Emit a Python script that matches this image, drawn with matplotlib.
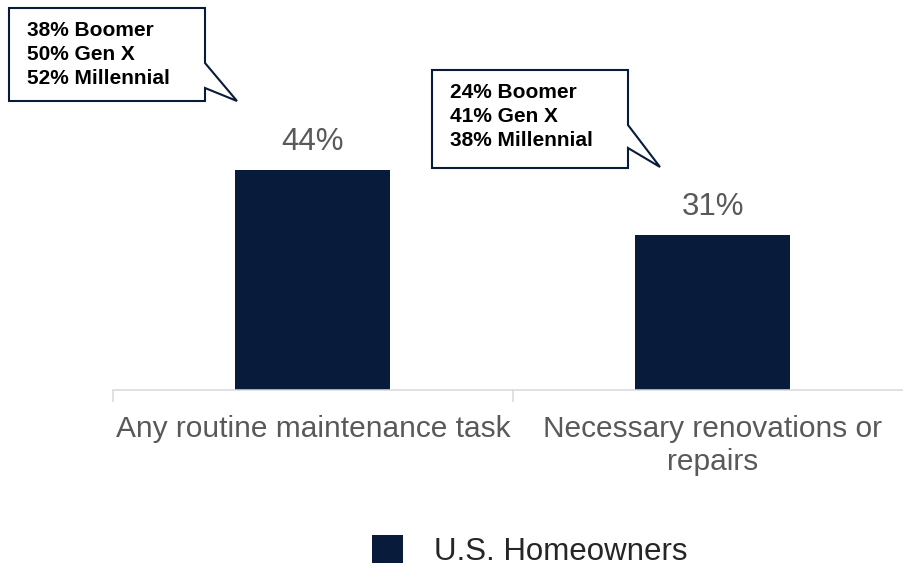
import matplotlib.pyplot as plt
from matplotlib.patches import Polygon

categories = ['Any routine maintenance task', 'Necessary renovations or\nrepairs']
homeowners = [44, 31]
boomer = [38, 24]
gen_x = [50, 41]
millennial = [52, 38]
series_name = 'U.S. Homeowners'

W, H = 904, 566
NAVY = '#081B3A'
GREY = '#595959'
AXIS = '#D9D9D9'

plt.rcParams['font.family'] = ['Liberation Sans', 'DejaVu Sans']

fig = plt.figure(figsize=(W / 100, H / 100), dpi=100)
# axes in pixel terms: baseline at y=390, 5 px per percent
ax = fig.add_axes([113 / W, (H - 390) / H, 800 / W, 250 / H])

x = list(range(len(categories)))
bars = ax.bar(x, homeowners, width=0.3875, color=NAVY, label=series_name, zorder=2)
ax.set_xlim(-0.5, len(categories) - 0.5)
ax.set_ylim(0, 50)

for b, v in zip(bars, homeowners):
    ax.annotate(f'{v}%', (b.get_x() + b.get_width() / 2, v), xytext=(0, 14.4),
                textcoords='offset points', ha='center', va='baseline',
                fontsize=22.5, color=GREY)

for side in ['left', 'top', 'right']:
    ax.spines[side].set_visible(False)
ax.spines['bottom'].set_color(AXIS)
ax.spines['bottom'].set_linewidth(1.1)
ax.set_yticks([])
ax.set_xticks(x, categories)
ax.set_xticks([i - 0.5 for i in range(len(categories) + 1)], minor=True)
ax.tick_params(axis='x', which='major', length=0, pad=18, labelsize=21.5, labelcolor=GREY)
ax.tick_params(axis='x', which='minor', length=8.6, width=1.1, color=AXIS)
for lbl in ax.get_xticklabels():
    lbl.set_linespacing(1.25)


def px(p):
    return (p[0] / W, 1 - p[1] / H)


def callout(box, tail, lines):
    l, t, r, b = box
    yu, yl, tx, ty = tail
    pts = [(l, t), (r, t), (r, yu), (tx, ty), (r, yl), (r, b), (l, b)]
    fig.add_artist(Polygon([px(p) for p in pts], closed=True, transform=fig.transFigure,
                           facecolor='white', edgecolor=NAVY, linewidth=1.5, zorder=3))
    for i, s in enumerate(lines):
        fig.text((l + 18) / W, 1 - (t + 28 + 24 * i) / H, s, fontsize=15,
                 fontweight='bold', color='black', va='baseline', zorder=4)


boxes = [(9, 8, 205, 101), (432, 70, 628, 168)]
tails = [(63, 88, 237, 101), (125, 148, 660, 167)]
for i in range(len(categories)):
    callout(boxes[i], tails[i], [f'{boomer[i]}% Boomer', f'{gen_x[i]}% Gen X',
                                 f'{millennial[i]}% Millennial'])

fig.legend(handles=[bars], labels=[series_name], loc='center',
           bbox_to_anchor=(530 / W, 1 - 551 / H), frameon=False, fontsize=22.5,
           handlelength=1, handleheight=1, handletextpad=1, labelcolor='#262626')

fig.savefig('out.png', dpi=100)
